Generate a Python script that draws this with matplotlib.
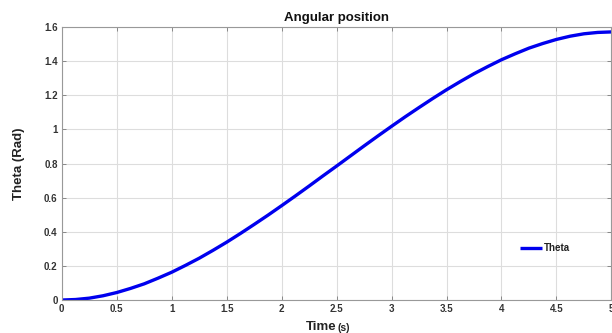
import matplotlib
matplotlib.use("Agg")
import matplotlib.pyplot as plt

plt.rcParams['font.family'] = ['Liberation Sans', 'DejaVu Sans']

time_s = [0, 0.125, 0.25, 0.375, 0.5, 0.625, 0.75, 0.875, 1.0, 1.125, 1.25, 1.375,
          1.5, 1.625, 1.75, 1.875, 2.0, 2.125, 2.25, 2.375, 2.5, 2.625, 2.75, 2.875,
          3.0, 3.125, 3.25, 3.375, 3.5, 3.625, 3.75, 3.875, 4.0, 4.125, 4.25, 4.375,
          4.5, 4.625, 4.75, 4.875, 5.0]
theta = [0.0, 0.003, 0.011, 0.025, 0.044, 0.068, 0.095, 0.128, 0.163, 0.203, 0.245, 0.291,
         0.339, 0.390, 0.443, 0.497, 0.553, 0.610, 0.668, 0.727, 0.785, 0.844, 0.903, 0.961,
         1.018, 1.074, 1.128, 1.181, 1.232, 1.280, 1.326, 1.368, 1.408, 1.443, 1.476, 1.503,
         1.527, 1.546, 1.560, 1.568, 1.571]
xticks = [0, 0.5, 1, 1.5, 2, 2.5, 3, 3.5, 4, 4.5, 5]
xticklabels = ['0', '0.5', '1', '1.5', '2', '2.5', '3', '3.5', '4', '4.5', '5']
yticks = [0, 0.2, 0.4, 0.6, 0.8, 1.0, 1.2, 1.4, 1.6]
yticklabels = ['0', '0.2', '0.4', '0.6', '0.8', '1', '1.2', '1.4', '1.6']

fig = plt.figure(figsize=(6.12, 3.33), dpi=100)
ax = fig.add_axes([0.101, 0.099, 0.898, 0.820])
ax.plot(time_s, theta, color='#0000ee', lw=2.4, label='Theta', solid_capstyle='butt')
ax.set_xlim(0, 5)
ax.set_ylim(0, 1.6)
ax.set_xticks(xticks)
ax.set_xticklabels(xticklabels)
ax.set_yticks(yticks)
ax.set_yticklabels(yticklabels)
ax.grid(True, color='#dddddd', lw=0.8)
ax.tick_params(direction='in', top=True, right=True, length=3, width=0.7,
               colors='#888888', labelcolor='#333333', labelsize=7, pad=3)
for lab in ax.get_xticklabels() + ax.get_yticklabels():
    lab.set_fontweight('bold')
for sp in ax.spines.values():
    sp.set_color('#999999')
    sp.set_linewidth(0.8)

ax.set_title('Angular position', fontsize=9.5, fontweight='bold', color='#111111', pad=4)
ax.set_ylabel('Theta (Rad)', fontsize=9.5, fontweight='bold', color='#222222', labelpad=14)
ax.set_xlabel(' ', fontsize=9.5)
ax.text(0.5, -0.075, 'Time', transform=ax.transAxes, ha='right', va='top',
        fontsize=9.5, fontweight='bold', color='#222222')
ax.text(0.502, -0.083, '(s)', transform=ax.transAxes, ha='left', va='top',
        fontsize=7.5, fontweight='bold', color='#222222')

leg = ax.legend(loc='lower right', bbox_to_anchor=(0.94, 0.14), frameon=False,
                fontsize=7, handlelength=2.2, handletextpad=0.2)
for t in leg.get_texts():
    t.set_fontweight('bold')
    t.set_color('#222222')

fig.savefig('out.png', dpi=100)
